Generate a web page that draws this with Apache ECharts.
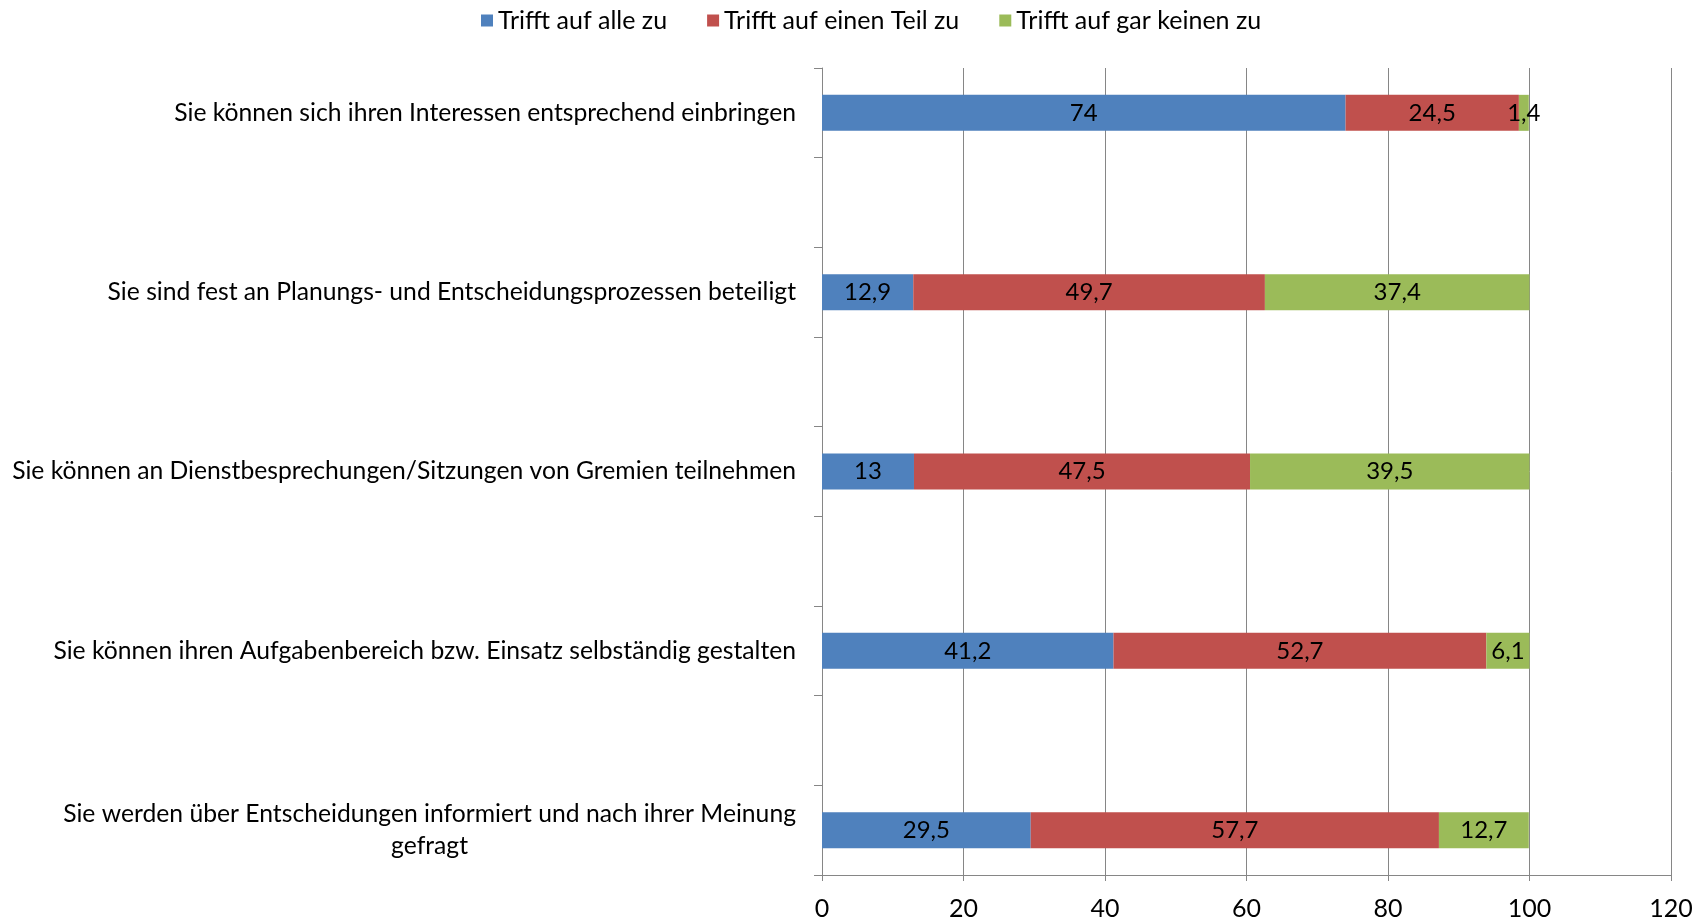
<!DOCTYPE html>
<html>
<head>
<meta charset="utf-8">
<script src="https://cdn.jsdelivr.net/npm/echarts@6/dist/echarts.min.js"></script>
<style>html,body{margin:0;padding:0;background:#fff;}#c{width:1707px;height:921px;}</style>
</head>
<body>
<div id="c"></div>
<script>
// Categories, top to bottom as shown in the chart
const categories = [
  'Sie können sich ihren Interessen entsprechend einbringen',
  'Sie sind fest an Planungs- und Entscheidungsprozessen beteiligt',
  'Sie können an Dienstbesprechungen/Sitzungen von Gremien teilnehmen',
  'Sie können ihren Aufgabenbereich bzw. Einsatz selbständig gestalten',
  'Sie werden über Entscheidungen informiert und nach ihrer Meinung\ngefragt'
];
const seriesNames = ['Trifft auf alle zu', 'Trifft auf einen Teil zu', 'Trifft auf gar keinen zu'];
const valuesAlle = [74, 12.9, 13, 41.2, 29.5];
const valuesTeil = [24.5, 49.7, 47.5, 52.7, 57.7];
const valuesKeinen = [1.4, 37.4, 39.5, 6.1, 12.7];
const xTicks = [0, 20, 40, 60, 80, 100, 120];

const colors = ['#4F81BD', '#C0504D', '#9BBB59'];
const FONT = 'Lato';

// Build axis with empty spacer rows between categories (bottom to top)
const axisData = [];
const rev = categories.slice().reverse();
rev.forEach((c, i) => {
  axisData.push(c);
  if (i < rev.length - 1) { axisData.push(' '.repeat(i + 1)); }
});
function expand(vals) {
  const r = vals.slice().reverse();
  const out = [];
  r.forEach((v, i) => { out.push(v); if (i < r.length - 1) out.push(null); });
  return out;
}
const allVals = [valuesAlle, valuesTeil, valuesKeinen];

const chart = echarts.init(document.getElementById('c'));
chart.setOption({
  animation: false,
  backgroundColor: '#fff',
  color: colors,
  legend: {
    top: 3,
    left: 476,
    itemWidth: 12,
    itemHeight: 12,
    itemGap: 40,
    icon: 'rect',
    textStyle: { fontFamily: FONT, fontSize: 25, color: '#000' },
    data: seriesNames
  },
  grid: { left: 822, right: 36, top: 68, bottom: 46, containLabel: false },
  xAxis: {
    type: 'value',
    min: xTicks[0],
    max: xTicks[xTicks.length - 1],
    interval: 20,
    axisLine: { show: true, lineStyle: { color: '#868686', width: 1 } },
    axisTick: { show: true, length: 6, lineStyle: { color: '#868686' } },
    axisLabel: { fontFamily: FONT, fontSize: 25, color: '#000', margin: 21 },
    splitLine: { show: true, lineStyle: { color: '#868686', width: 1 } }
  },
  yAxis: {
    type: 'category',
    data: axisData,
    axisLine: { show: true, lineStyle: { color: '#868686', width: 1 } },
    axisTick: { show: true, length: 8, lineStyle: { color: '#868686' } },
    axisLabel: {
      fontFamily: FONT, fontSize: 24.7, color: '#000', margin: 26,
      interval: 0,
      formatter: function (v) {
        if (!v.trim()) return '';
        return v.split('\n').map(l => '{c|' + l + '}').join('\n');
      },
      rich: { c: { align: 'center', fontFamily: FONT, fontSize: 24.7, color: '#000', lineHeight: 32 } }
    },
    splitLine: { show: false }
  },
  series: seriesNames.map((n, k) => ({
    name: n,
    type: 'bar',
    stack: 'total',
    barWidth: 36,
    data: expand(allVals[k]),
    itemStyle: { color: colors[k] },
    label: {
      show: true,
      position: 'inside',
      fontFamily: FONT,
      fontSize: 24,
      color: '#000',
      formatter: p => (p.value == null ? '' : String(p.value).replace('.', ','))
    }
  }))
});
</script>
</body>
</html>
